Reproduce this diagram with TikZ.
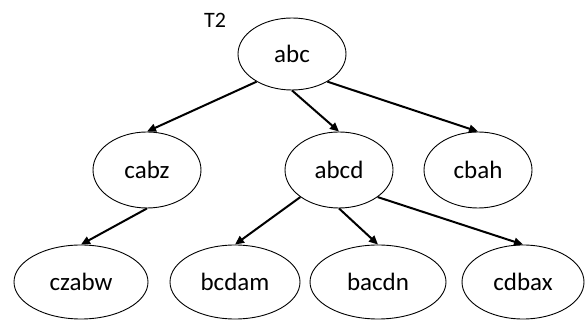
\documentclass[tikz,border=0pt]{standalone}
\usepackage{fontspec}
\setmainfont{Carlito}
\usetikzlibrary{shapes.geometric,arrows.meta}
\begin{document}
\begin{tikzpicture}[x=1pt,y=1pt,
  el/.style={ellipse,draw,line width=0.9pt,inner sep=0pt,minimum height=76pt,font=\fontsize{25}{28}\selectfont},
  arr/.style={line width=2pt,-{Triangle[length=9pt,width=8pt]}}]
\useasboundingbox (0,0) rectangle (585,320);
\node[font=\fontsize{22}{25}\selectfont] (t2) at (215,300) {T2};
\node[el,minimum width=108pt,minimum height=72pt] (abc) at (292,266) {abc};
\node[el,minimum width=108pt] (cabz) at (147,150) {cabz};
\node[el,minimum width=108pt] (abcd) at (339,150) {abcd};
\node[el,minimum width=108pt] (cbah) at (478,150) {cbah};
\node[el,minimum width=134pt,minimum height=74pt] (czabw) at (81,38) {czabw};
\node[el,minimum width=130pt,minimum height=74pt] (bcdam) at (235,38) {bcdam};
\node[el,minimum width=136pt,minimum height=74pt] (bacdn) at (378,38) {bacdn};
\node[el,minimum width=122pt,minimum height=74pt] (cdbax) at (523,38) {cdbax};
\draw[arr] (abc.218) -- (cabz.north);
\draw[arr] (abc.south) -- (abcd.north);
\draw[arr] (abc.-38) -- (cbah.north);
\draw[arr] (cabz.south) -- (czabw.north);
\draw[arr] (abcd.215) -- (bcdam.north);
\draw[arr] (abcd.south) -- (bacdn.north);
\draw[arr] (abcd.-35) -- (cdbax.north);
\end{tikzpicture}
\end{document}
